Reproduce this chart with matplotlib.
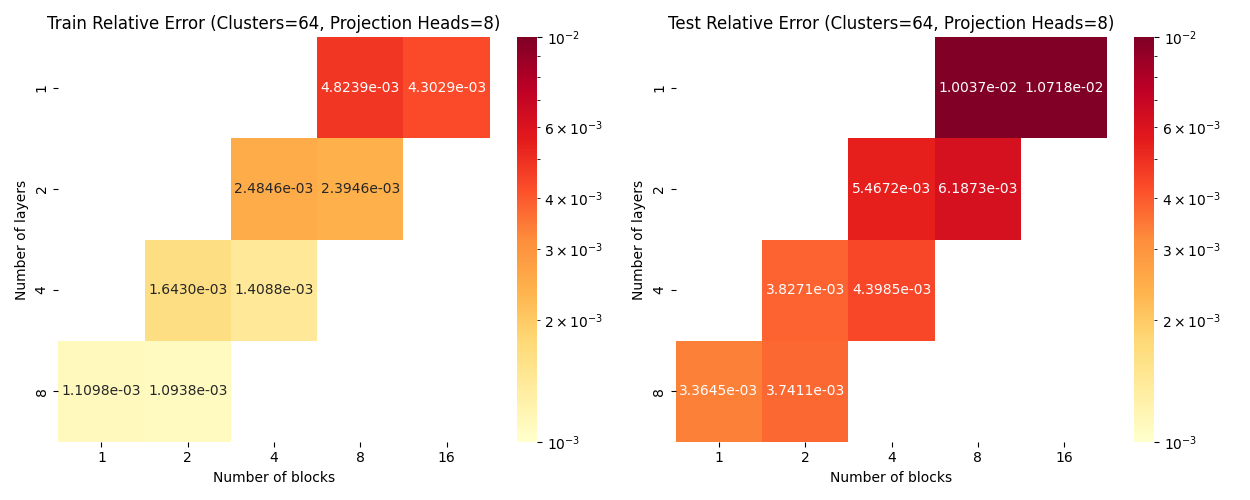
import numpy as np
import pandas as pd
import matplotlib
matplotlib.use("Agg")
import matplotlib.pyplot as plt
import seaborn as sns
from matplotlib.colors import LogNorm

blocks = [1, 2, 4, 8, 16]
layers = [1, 2, 4, 8]
nan = np.nan
train_vals = [
    [nan, nan, nan, 4.8239e-03, 4.3029e-03],
    [nan, nan, 2.4846e-03, 2.3946e-03, nan],
    [nan, 1.6430e-03, 1.4088e-03, nan, nan],
    [1.1098e-03, 1.0938e-03, nan, nan, nan],
]
test_vals = [
    [nan, nan, nan, 1.0037e-02, 1.0718e-02],
    [nan, nan, 5.4672e-03, 6.1873e-03, nan],
    [nan, 3.8271e-03, 4.3985e-03, nan, nan],
    [3.3645e-03, 3.7411e-03, nan, nan, nan],
]

fig, axes = plt.subplots(1, 2, figsize=(12.5, 5), dpi=100)
for ax, vals, title in [
    (axes[0], train_vals, "Train Relative Error (Clusters=64, Projection Heads=8)"),
    (axes[1], test_vals, "Test Relative Error (Clusters=64, Projection Heads=8)"),
]:
    df = pd.DataFrame(vals, index=layers, columns=blocks)
    sns.heatmap(df, ax=ax, cmap="YlOrRd", norm=LogNorm(vmin=1e-3, vmax=1e-2),
                annot=True, fmt=".4e", cbar=True)
    ax.set_title(title, fontsize=12)
    ax.set_xlabel("Number of blocks")
    ax.set_ylabel("Number of layers")

fig.tight_layout()
fig.savefig("out.png")
